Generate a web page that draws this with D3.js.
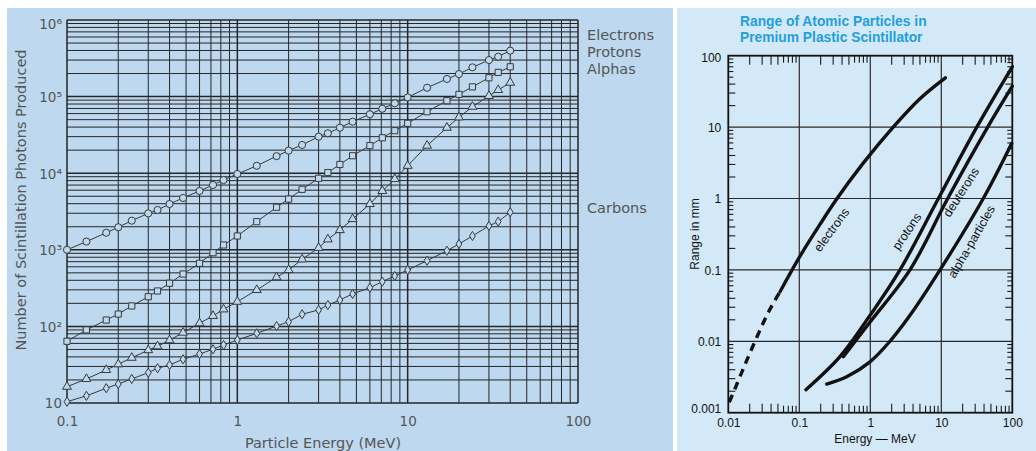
<!DOCTYPE html>
<html><head><meta charset="utf-8">
<script src="https://cdn.jsdelivr.net/npm/d3@7"></script>
<style>html,body{margin:0;padding:0;background:#fff;}svg{display:block;}</style>
</head><body>
<svg id="c" width="1036" height="451"></svg>
<script>
// ---------- LEFT CHART DATA ----------
const energyMeV = [0.1,0.13,0.17,0.2,0.24,0.3,0.34,0.4,0.48,0.6,0.72,0.83,1,1.3,1.7,2,2.4,3,3.4,4,4.75,6,7.1,8.4,10,13,17,20,24,30,34,40];
const electrons = [1000,1280,1670,1970,2400,2990,3310,3960,4750,5860,7020,8150,9770,12500,16700,19700,23400,30000,33200,39300,47000,58800,69500,81700,97700,130600,170000,197000,241000,300000,332000,398000];
const protons = [64,90,121,145,185,244,290,366,483,666,916,1156,1515,2330,3590,4600,6160,8580,10200,13000,16900,22900,29000,35900,44800,63500,88400,107000,134000,176000,207000,245000];
const alphas = [16.3,20.6,27,32,39,49,55,66,83,110,137,167,210,299,438,545,751,1060,1370,1810,2520,3960,5860,8400,12500,22900,39300,53600,73800,102000,122000,152000];
const carbons = [10.4,12.4,15.6,17.7,20.6,24.9,28.4,31.4,37.2,43.6,50.3,57.2,66.4,81.2,101,115,144,164,190,221,265,320,384,455,545,721,973,1190,1515,2050,2330,3090];
const seriesNames = ["Electrons","Protons","Alphas","Carbons"];
const yTickValues = [10,100,1000,10000,100000,1000000];
const xTickValues = [0.1,1,10,100];
const xTickLabels = ["0.1","1","10","100"];
const xTitleL = "Particle Energy (MeV)";
const yTitleL = "Number of Scintillation Photons Produced";

// ---------- RIGHT CHART DATA ----------
const titleLines = ["Range of Atomic Particles in","Premium Plastic Scintillator"];
const elecDashE = [0.0103,0.0125,0.017,0.025,0.037,0.0535];
const elecDashR = [0.0014,0.0022,0.0046,0.0112,0.026,0.0495];
const elecE = [0.0535,0.1,0.2,0.34,0.79,2.1,5,11.4];
const elecR = [0.0495,0.15,0.45,1.0,3.1,10,25,49];
const protE = [0.124,0.374,1,2.62,9.1,31.6,100];
const protR = [0.0021,0.0061,0.0233,0.1,1,10,70];
const deutE = [0.417,1,3.62,12.3,45,100];
const deutR = [0.0061,0.0188,0.1,1,10,37.5];
const alphE = [0.243,0.465,1,1.89,3.5,9.6,39,98];
const alphR = [0.00252,0.00318,0.0052,0.01,0.022,0.1,1,5.9];
const curveLabels = ["electrons","protons","deuterons","alpha-particles"];
const rYTicks = [0.001,0.01,0.1,1,10,100];
const rYLabels = ["0.001","0.01","0.1","1","10","100"];
const rXTicks = [0.01,0.1,1,10,100];
const rXLabels = ["0.01","0.1","1","10","100"];
const rXTitle = "Energy \u2014 MeV";
const rYTitle = "Range in mm";

// ---------- DRAW ----------
const svg = d3.select("#c");
const leftBg = "#bdd8ef", rightBg = "#d3e9f7";
svg.append("rect").attr("width",1036).attr("height",451).attr("fill","#fff");
svg.append("rect").attr("x",7).attr("y",8).attr("width",666).attr("height",443).attr("fill",leftBg);
svg.append("rect").attr("x",677).attr("y",8).attr("width",359).attr("height",443).attr("fill",rightBg);

const isDecade = v => Math.abs(Math.log10(v) - Math.round(Math.log10(v))) < 1e-6;
const mant = v => Math.round(v / Math.pow(10, Math.floor(Math.log10(v) + 1e-9)));

// LEFT
const fontL = "'DejaVu Sans', sans-serif";
const textC = "#555";
const xL = d3.scaleLog().domain([0.1,100]).range([67,578]);
const yL = d3.scaleLog().domain([10,1e6]).range([403,20]);
const gL = svg.append("g");
gL.append("g").selectAll("line").data(xL.ticks()).join("line")
  .attr("x1",d=>xL(d)).attr("x2",d=>xL(d)).attr("y1",20).attr("y2",403)
  .attr("stroke","#262626").attr("stroke-width",d=>isDecade(d)?1.5:1);
gL.append("g").selectAll("line").data(yL.ticks()).join("line")
  .attr("y1",d=>yL(d)).attr("y2",d=>yL(d)).attr("x1",67).attr("x2",578)
  .attr("stroke","#262626").attr("stroke-width",d=>isDecade(d)?1.5:1);

const allSeries = [electrons,protons,alphas,carbons];
const lineL = d3.line().x(d=>xL(d[0])).y(d=>yL(d[1]));
const diamond = {draw(ctx,size){const w=2.9,h=4.6;ctx.moveTo(0,-h);ctx.lineTo(w,0);ctx.lineTo(0,h);ctx.lineTo(-w,0);ctx.closePath();}};
const symbols = [d3.symbol(d3.symbolCircle,40)(), d3.symbol(d3.symbolSquare,38)(), d3.symbol(d3.symbolTriangle,34)(), d3.symbol(diamond,40)()];
allSeries.forEach((vals,i)=>{
  const pts = energyMeV.map((e,k)=>[e,vals[k]]);
  gL.append("path").attr("d",lineL(pts)).attr("fill","none").attr("stroke","#3a3a3a").attr("stroke-width",1);
  gL.append("g").selectAll("path").data(pts).join("path")
    .attr("transform",d=>`translate(${xL(d[0])},${yL(d[1])})`)
    .attr("d",symbols[i]).attr("fill",leftBg).attr("stroke","#3a3a3a").attr("stroke-width",1);
});

// left axes labels
const supers = "\u2070\u00b9\u00b2\u00b3\u2074\u2075\u2076\u2077\u2078\u2079";
const axYL = gL.append("g").attr("transform","translate(67,0)")
  .call(d3.axisLeft(yL).tickValues(yTickValues).tickSize(0).tickPadding(5).tickFormat(""));
axYL.select(".domain").remove();
axYL.selectAll(".tick text").each(function(d,i){
  const t = d3.select(this);
  t.text(null).attr("font-family",fontL).attr("font-size",13.5).attr("fill",textC).attr("dy","0.36em");
  const e = Math.round(Math.log10(d));
  t.append("tspan").text("10");
  if (e>1) t.append("tspan").attr("font-size",14).text(String(e).replace(/./g,c=>supers[+c]));
  if (i===yTickValues.length-1) t.attr("y",4);
});

const axXL = gL.append("g").attr("transform","translate(0,403)")
  .call(d3.axisBottom(xL).tickValues(xTickValues).tickSize(0).tickFormat((d,i)=>xTickLabels[i]));
axXL.select(".domain").remove();
axXL.selectAll("text").attr("dy",null).attr("y",23).attr("font-family",fontL).attr("font-size",13.5).attr("fill",textC);

gL.append("text").attr("x",323).attr("y",448).attr("text-anchor","middle")
  .attr("font-family",fontL).attr("font-size",14.5).attr("fill",textC).text(xTitleL);
gL.append("text").attr("transform","translate(26,200) rotate(-90)").attr("text-anchor","middle")
  .attr("font-family",fontL).attr("font-size",14.5).attr("fill",textC).text(yTitleL);
const legendY = [39.5,57,74,213];
gL.append("g").selectAll("text").data(seriesNames).join("text")
  .attr("x",587).attr("y",(d,i)=>legendY[i])
  .attr("font-family",fontL).attr("font-size",14.5).attr("fill",textC).text(d=>d);

// RIGHT
const fontR = "'Liberation Sans', Arial, sans-serif";
const xR = d3.scaleLog().domain([0.01,100]).range([728.3,1012.3]);
const yR = d3.scaleLog().domain([0.001,100]).range([412.7,55.7]);
const gR = svg.append("g");
gR.append("g").selectAll("text").data(titleLines).join("text")
  .attr("x",740).attr("y",(d,i)=>25.5+i*16)
  .attr("font-family",fontR).attr("font-weight","bold").attr("font-size",13.8).attr("fill","#239fda").text(d=>d);

const x0=xR.range()[0], x1=xR.range()[1], y0=yR.range()[0], y1=yR.range()[1];
gR.append("g").selectAll("line").data(xR.ticks().filter(d=>isDecade(d)&&d>0.01&&d<100)).join("line")
  .attr("x1",d=>xR(d)).attr("x2",d=>xR(d)).attr("y1",y1).attr("y2",y0).attr("stroke","#2a2a2a").attr("stroke-width",1.2);
gR.append("g").selectAll("line").data(yR.ticks().filter(d=>isDecade(d)&&d>0.001&&d<100)).join("line")
  .attr("y1",d=>yR(d)).attr("y2",d=>yR(d)).attr("x1",x0).attr("x2",x1).attr("stroke","#2a2a2a").attr("stroke-width",1.2);
const xMinor = xR.ticks().filter(d=>!isDecade(d));
const yMinor = yR.ticks().filter(d=>!isDecade(d));
const tLenX = d => mant(d)<=5 ? 9 : 7;
const tLenY = d => mant(d)<=4 ? 7 : 5;
const tickG = gR.append("g").attr("stroke","#1a1a1a").attr("stroke-width",1.1);
tickG.selectAll(".tt").data(xMinor).join("line").attr("class","tt")
  .attr("x1",d=>xR(d)).attr("x2",d=>xR(d)).attr("y1",y1).attr("y2",d=>y1+tLenX(d));
tickG.selectAll(".tb").data(xMinor).join("line").attr("class","tb")
  .attr("x1",d=>xR(d)).attr("x2",d=>xR(d)).attr("y1",y0).attr("y2",d=>y0-tLenX(d));
tickG.selectAll(".tl").data(yMinor).join("line").attr("class","tl")
  .attr("y1",d=>yR(d)).attr("y2",d=>yR(d)).attr("x1",x0).attr("x2",d=>x0+tLenY(d));
tickG.selectAll(".tr").data(yMinor).join("line").attr("class","tr")
  .attr("y1",d=>yR(d)).attr("y2",d=>yR(d)).attr("x1",x1).attr("x2",d=>x1-tLenY(d));
gR.append("rect").attr("x",x0).attr("y",y1).attr("width",x1-x0).attr("height",y0-y1)
  .attr("fill","none").attr("stroke","#111").attr("stroke-width",1.8);

const lineR = d3.line().x(d=>xR(d[0])).y(d=>yR(d[1])).curve(d3.curveCatmullRom.alpha(0.5));
const zip = (a,b)=>a.map((v,i)=>[v,b[i]]);
const curveG = gR.append("g").attr("fill","none").attr("stroke","#111").attr("stroke-width",3.4).attr("stroke-linecap","round");
curveG.append("path").attr("d",lineR(zip(elecDashE,elecDashR))).attr("stroke-dasharray","8,6").attr("stroke-linecap","butt");
[[elecE,elecR],[protE,protR],[deutE,deutR],[alphE,alphR]].forEach(([e,r])=>{
  curveG.append("path").attr("d",lineR(zip(e,r)));
});

const labelPos = [[831.7,230,-54],[907,231.5,-56],[961.3,192.3,-57.5],[971.7,241.7,-60]];
gR.append("g").selectAll("text").data(curveLabels).join("text")
  .attr("transform",(d,i)=>`translate(${labelPos[i][0]},${labelPos[i][1]}) rotate(${labelPos[i][2]})`)
  .attr("text-anchor","middle").attr("dominant-baseline","central")
  .attr("font-family",fontR).attr("font-size",12.5).attr("fill","#111").text(d=>d);

const axYR = gR.append("g").attr("transform",`translate(${x0},0)`)
  .call(d3.axisLeft(yR).tickValues(rYTicks).tickSize(0).tickPadding(7).tickFormat((d,i)=>rYLabels[i]));
axYR.select(".domain").remove();
axYR.selectAll("text").attr("font-family",fontR).attr("font-size",12).attr("fill","#111")
  .attr("dy","0.35em").attr("y",(d,i)=>i===0?-4:(i===rYTicks.length-1?2:0));
const axXR = gR.append("g").attr("transform",`translate(0,${y0})`)
  .call(d3.axisBottom(xR).tickValues(rXTicks).tickSize(0).tickFormat((d,i)=>rXLabels[i]));
axXR.select(".domain").remove();
axXR.selectAll("text").attr("dy",null).attr("y",14).attr("font-family",fontR).attr("font-size",12).attr("fill","#111");
gR.append("text").attr("x",875).attr("y",443).attr("text-anchor","middle")
  .attr("font-family",fontR).attr("font-size",12).attr("fill","#111").text(rXTitle);
gR.append("text").attr("transform","translate(699,234) rotate(-90)").attr("text-anchor","middle")
  .attr("font-family",fontR).attr("font-size",12).attr("fill","#111").text(rYTitle);
</script>
</body></html>
